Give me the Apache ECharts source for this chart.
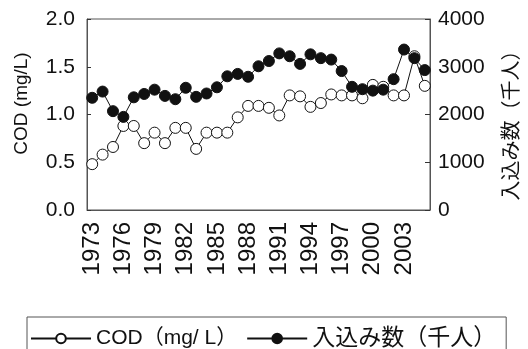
<!DOCTYPE html>
<html>
<head>
<meta charset="utf-8">
<script src="https://cdn.jsdelivr.net/npm/echarts@6/dist/echarts.min.js"></script>
<style>html,body{margin:0;padding:0;background:#fff}#c{width:528px;height:349px}</style>
</head>
<body>
<div id="c"></div>
<script>
var years = ['1973','1974','1975','1976','1977','1978','1979','1980','1981','1982','1983','1984','1985','1986','1987','1988','1989','1990','1991','1992','1993','1994','1995','1996','1997','1998','1999','2000','2001','2002','2003','2004','2005'];
var cod = [0.48,0.58,0.66,0.88,0.88,0.70,0.81,0.70,0.86,0.86,0.64,0.81,0.81,0.81,0.97,1.09,1.09,1.07,0.99,1.20,1.19,1.08,1.12,1.21,1.20,1.20,1.17,1.31,1.29,1.20,1.20,1.61,1.30];
var visitors = [2350,2480,2070,1950,2360,2430,2520,2390,2320,2560,2370,2440,2570,2800,2850,2790,3010,3120,3280,3220,3060,3260,3180,3150,2910,2580,2530,2500,2520,2740,3360,3180,2930];
var codTicks = [0, 0.5, 1.0, 1.5, 2.0];
var visitorTicks = [0, 1000, 2000, 3000, 4000];

var FONT = '"Liberation Sans", Arial, "Noto Sans CJK JP", sans-serif';
var NARROW = '"Liberation Sans Narrow", "Liberation Sans", Arial, sans-serif';
var chart = echarts.init(document.getElementById('c'));
chart.setOption({
  animation: false,
  textStyle: {fontFamily: FONT, color: '#111'},
  grid: {left: 87, right: 98, top: 19, bottom: 139, show: true, borderColor: '#555', borderWidth: 1},
  legend: {
    left: 27, top: 317,
    padding: [10, 10, 10, 3],
    borderColor: '#555', borderWidth: 1,
    itemWidth: 60, itemHeight: 12, itemGap: 9,
    textStyle: {fontSize: 23, fontFamily: FONT, color: '#111',
      rich: {a: {fontSize: 21, fontFamily: FONT, color: '#111'}, b: {fontSize: 23, fontFamily: FONT, color: '#111'}}},
    formatter: function(n){ return n.indexOf('COD') === 0 ? '{a|' + n + '}' : '{b|' + n + '}'; },
    data: ['COD（mg/ L）', '入込み数（千人）']
  },
  xAxis: {
    type: 'category', data: years, boundaryGap: true,
    axisLine: {lineStyle: {color: '#555', width: 1}},
    axisTick: {inside: true, length: 7, interval: 0, lineStyle: {color: '#333'}},
    axisLabel: {interval: 2, rotate: 90, fontSize: 24, margin: 12, color: '#111', fontFamily: FONT}
  },
  yAxis: [
    {
      type: 'value', min: codTicks[0], max: codTicks[codTicks.length-1], interval: 0.5,
      name: 'COD (mg/L)', nameLocation: 'middle', nameGap: 56, nameRotate: 90,
      nameTextStyle: {fontSize: 19, color: '#111', fontFamily: NARROW, padding: [0, 0, 0, 22]},
      axisLine: {show: true, lineStyle: {color: '#555'}},
      axisTick: {show: true, inside: true, length: 4, lineStyle: {color: '#333'}},
      splitLine: {show: false},
      axisLabel: {fontSize: 21, margin: 12, color: '#111', fontFamily: FONT,
        formatter: function(v){return v.toFixed(1);}}
    },
    {
      type: 'value', min: visitorTicks[0], max: visitorTicks[visitorTicks.length-1], interval: 1000,
      name: '入込み数（千人）', nameLocation: 'middle', nameGap: 70, nameRotate: 90,
      nameTextStyle: {fontSize: 20, color: '#111', fontFamily: '"Noto Sans CJK JP", sans-serif', padding: [0, 12, 0, 0]},
      axisLine: {show: true, lineStyle: {color: '#555'}},
      axisTick: {show: true, inside: true, length: 5, lineStyle: {color: '#333'}},
      splitLine: {show: false},
      axisLabel: {fontSize: 21, margin: 8, color: '#111', fontFamily: FONT,
        formatter: function(v){return String(v);}}
    }
  ],
  series: [
    {
      name: 'COD（mg/ L）', type: 'line', yAxisIndex: 0, data: cod,
      symbol: 'circle', symbolSize: 11, showAllSymbol: true,
      lineStyle: {color: '#111', width: 1},
      itemStyle: {color: '#fff', borderColor: '#111', borderWidth: 1}
    },
    {
      name: '入込み数（千人）', type: 'line', yAxisIndex: 1, data: visitors,
      symbol: 'circle', symbolSize: 11, showAllSymbol: true,
      lineStyle: {color: '#111', width: 1},
      itemStyle: {color: '#111', borderColor: '#111', borderWidth: 1}
    }
  ]
});
</script>
</body>
</html>
